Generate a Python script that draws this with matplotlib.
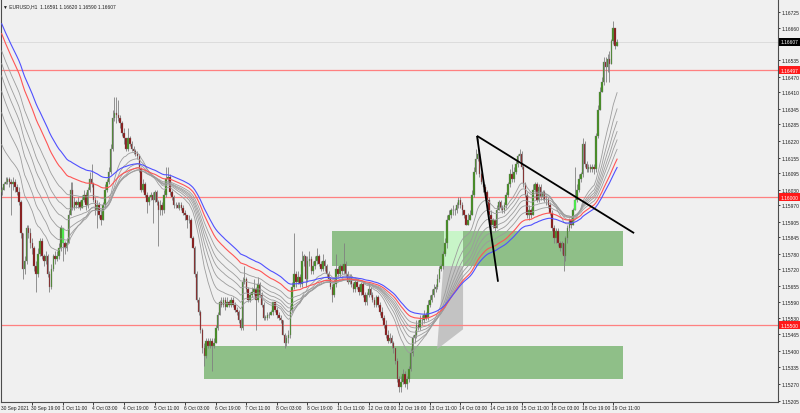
import numpy as np
import pandas as pd
import matplotlib
matplotlib.use("Agg")
import matplotlib.pyplot as plt
from matplotlib.patches import Rectangle, Polygon

# -----------------------------
# Data (EURUSD H1)
# -----------------------------
first_open = 1.1602

closes = [
    1.1603, 1.1605, 1.1606, 1.1607, 1.1606, 1.1605, 1.1606, 1.1604, 1.1602, 1.1598,
    1.1586, 1.1572, 1.1575, 1.1588, 1.1586, 1.1582, 1.1580, 1.1573, 1.1570, 1.1578,
    1.1583, 1.1577, 1.1575, 1.1577, 1.1570, 1.1565, 1.1572, 1.1577, 1.1576, 1.1577,
    1.1580, 1.1588, 1.1582, 1.1580, 1.1582, 1.1593, 1.1603, 1.1596, 1.1598, 1.1597,
    1.1598, 1.1596, 1.1599, 1.1601, 1.1597, 1.1603, 1.1607, 1.1605, 1.1599, 1.1595,
    1.1597, 1.1593, 1.1591, 1.1597, 1.1603, 1.1606, 1.1610, 1.1619, 1.1631, 1.1633,
    1.1632, 1.1631, 1.1629, 1.1625, 1.1623, 1.1619, 1.1623, 1.1621, 1.1619, 1.1618,
    1.1617, 1.1616, 1.1611, 1.1603, 1.1605, 1.1601, 1.1598, 1.1600, 1.1601, 1.1599,
    1.1602, 1.1598, 1.1595, 1.1597, 1.1595, 1.1601, 1.1607, 1.1608, 1.1602, 1.1600,
    1.1597, 1.1597, 1.1596, 1.1597, 1.1596, 1.1594, 1.1593, 1.1591, 1.1591, 1.1584,
    1.1580, 1.1570, 1.1560, 1.1555, 1.1548, 1.1541, 1.1538, 1.1544, 1.1542, 1.1544,
    1.1542, 1.1543, 1.1549, 1.1554, 1.1559, 1.1558, 1.1560, 1.1557, 1.1559, 1.1558,
    1.1560, 1.1558, 1.1556, 1.1555, 1.1552, 1.1549, 1.1567, 1.1568, 1.1564, 1.1560,
    1.1562, 1.1563, 1.1564, 1.1560, 1.1566, 1.1562, 1.1558, 1.1553, 1.1553, 1.1554,
    1.1554, 1.1555, 1.1559, 1.1556, 1.1554, 1.1553, 1.1552, 1.1546, 1.1543, 1.1545,
    1.1546, 1.1556, 1.1565, 1.1570, 1.1567, 1.1569, 1.1566, 1.1575, 1.1577, 1.1568,
    1.1575, 1.1576, 1.1571, 1.1573, 1.1575, 1.1577, 1.1574, 1.1572, 1.1575, 1.1573,
    1.1570, 1.1568, 1.1565, 1.1562, 1.1566, 1.1572, 1.1570, 1.1573, 1.1571, 1.1574,
    1.1570, 1.1567, 1.1569, 1.1566, 1.1564, 1.1567, 1.1565, 1.1563, 1.1566, 1.1562,
    1.1559, 1.1562, 1.1564, 1.1562, 1.1560, 1.1558, 1.1561, 1.1558, 1.1555, 1.1553,
    1.1550, 1.1546, 1.1544, 1.1545, 1.1543, 1.1541, 1.1536, 1.1529, 1.1526, 1.1528,
    1.1531, 1.1527, 1.1529, 1.1533, 1.1539, 1.1545, 1.1546, 1.1550, 1.1549, 1.1552,
    1.1552, 1.1554, 1.1553, 1.1558, 1.1560, 1.1562, 1.1564, 1.1565, 1.1568, 1.1572,
    1.1573, 1.1578, 1.1582, 1.1591, 1.1593, 1.1595, 1.1595, 1.1595, 1.1597, 1.1599,
    1.1597, 1.1595, 1.1593, 1.1589, 1.1591, 1.1593, 1.1601, 1.1610, 1.1615, 1.1617,
    1.1609, 1.1606, 1.1604, 1.1602, 1.1599, 1.1593, 1.1589, 1.1591, 1.1588, 1.1595,
    1.1598, 1.1596, 1.1595, 1.1597, 1.1601, 1.1605, 1.1609, 1.1607, 1.1610, 1.1613,
    1.1616, 1.1617, 1.1612, 1.1605, 1.1601, 1.1593, 1.1595, 1.1593, 1.1603, 1.1605,
    1.1599, 1.1604, 1.1600, 1.1602, 1.1599, 1.1599, 1.1597, 1.1594, 1.1588, 1.1584,
    1.1587, 1.1582, 1.1580, 1.1582, 1.1577, 1.1584, 1.1588, 1.1591, 1.1589, 1.1595,
    1.1599, 1.1603, 1.1607, 1.1609, 1.1621, 1.1613, 1.1611, 1.1612, 1.1611, 1.1612,
    1.1611, 1.1624, 1.1634, 1.1641, 1.1645, 1.1653, 1.1651, 1.1654, 1.1652, 1.1661,
    1.1666, 1.16591, 1.16607,
]

highs = [
    1.1604, 1.1606, 1.1608, 1.1608, 1.1608, 1.1607, 1.1608, 1.1607, 1.1605, 1.1604,
    1.1599, 1.1586, 1.1577, 1.1589, 1.1589, 1.1588, 1.1584, 1.1581, 1.1575, 1.1580,
    1.1584, 1.1584, 1.1578, 1.1579, 1.1578, 1.1571, 1.1574, 1.1578, 1.1579, 1.1579,
    1.1582, 1.1589, 1.1588, 1.1583, 1.1584, 1.1595, 1.1606, 1.1606, 1.1600, 1.1599,
    1.1600, 1.1599, 1.1601, 1.1603, 1.1602, 1.1604, 1.1610, 1.1613, 1.1606, 1.1600,
    1.1599, 1.1598, 1.1595, 1.1598, 1.1605, 1.1607, 1.1612, 1.1621, 1.1634, 1.1639,
    1.1639, 1.1638, 1.1632, 1.1630, 1.1627, 1.1623, 1.1627, 1.1624, 1.1622, 1.1620,
    1.1619, 1.1618, 1.1617, 1.1612, 1.1607, 1.1606, 1.1602, 1.1601, 1.1602, 1.1602,
    1.1603, 1.1603, 1.1599, 1.1599, 1.1598, 1.1603, 1.1612, 1.1612, 1.1609, 1.1603,
    1.1601, 1.1598, 1.1598, 1.1598, 1.1598, 1.1597, 1.1595, 1.1593, 1.1593, 1.1592,
    1.1585, 1.1581, 1.1571, 1.1561, 1.1556, 1.1549, 1.1543, 1.1545, 1.1545, 1.1545,
    1.1545, 1.1545, 1.1550, 1.1555, 1.1560, 1.1561, 1.1561, 1.1561, 1.1561, 1.1560,
    1.1561, 1.1561, 1.1559, 1.1557, 1.1556, 1.1553, 1.1569, 1.1573, 1.1569, 1.1565,
    1.1563, 1.1565, 1.1568, 1.1565, 1.1569, 1.1567, 1.1563, 1.1559, 1.1554, 1.1555,
    1.1555, 1.1556, 1.1559, 1.1559, 1.1557, 1.1555, 1.1554, 1.1552, 1.1547, 1.1546,
    1.1548, 1.1558, 1.1567, 1.1586, 1.1571, 1.1571, 1.1570, 1.1579, 1.1578, 1.1577,
    1.1577, 1.1579, 1.1577, 1.1575, 1.1577, 1.1580, 1.1578, 1.1575, 1.1578, 1.1576,
    1.1574, 1.1571, 1.1569, 1.1566, 1.1568, 1.1578, 1.1573, 1.1574, 1.1574, 1.1582,
    1.1575, 1.1571, 1.1570, 1.1570, 1.1567, 1.1568, 1.1568, 1.1566, 1.1567, 1.1567,
    1.1563, 1.1563, 1.1566, 1.1565, 1.1563, 1.1561, 1.1562, 1.1562, 1.1559, 1.1557,
    1.1554, 1.1552, 1.1548, 1.1547, 1.1546, 1.1544, 1.1541, 1.1537, 1.1530, 1.1530,
    1.1533, 1.1532, 1.1530, 1.1534, 1.1541, 1.1546, 1.1548, 1.1552, 1.1552, 1.1554,
    1.1554, 1.1556, 1.1555, 1.1560, 1.1562, 1.1564, 1.1566, 1.1566, 1.1570, 1.1573,
    1.1574, 1.1579, 1.1584, 1.1593, 1.1595, 1.1596, 1.1597, 1.1596, 1.1598, 1.1600,
    1.1600, 1.1598, 1.1595, 1.1593, 1.1594, 1.1595, 1.1603, 1.1612, 1.1619, 1.1623,
    1.1618, 1.1610, 1.1607, 1.1605, 1.1603, 1.1600, 1.1595, 1.1592, 1.1591, 1.1597,
    1.1599, 1.1599, 1.1597, 1.1598, 1.1602, 1.1606, 1.1611, 1.1613, 1.1612, 1.1614,
    1.1617, 1.1619, 1.1618, 1.1613, 1.1606, 1.1602, 1.1597, 1.1596, 1.1605, 1.1606,
    1.1606, 1.1605, 1.1605, 1.1603, 1.1603, 1.1601, 1.1600, 1.1598, 1.1595, 1.1589,
    1.1588, 1.1588, 1.1583, 1.1583, 1.1582, 1.1585, 1.1589, 1.1592, 1.1592, 1.1596,
    1.1612, 1.1605, 1.1609, 1.1610, 1.1623, 1.1622, 1.1614, 1.1613, 1.1613, 1.1613,
    1.1613, 1.1625, 1.1636, 1.1643, 1.1647, 1.1655, 1.1655, 1.1656, 1.1657, 1.1662,
    1.1669, 1.1666, 1.16620,
]

lows = [
    1.1601, 1.1603, 1.1605, 1.1605, 1.1604, 1.1593, 1.1603, 1.1602, 1.1601, 1.1597,
    1.1584, 1.1568, 1.1570, 1.1574, 1.1584, 1.1580, 1.1578, 1.1571, 1.1563, 1.1569,
    1.1577, 1.1576, 1.1573, 1.1574, 1.1569, 1.1563, 1.1564, 1.1571, 1.1574, 1.1575,
    1.1576, 1.1579, 1.1575, 1.1578, 1.1579, 1.1582, 1.1593, 1.1595, 1.1595, 1.1596,
    1.1596, 1.1595, 1.1596, 1.1598, 1.1595, 1.1596, 1.1602, 1.1604, 1.1598, 1.1593,
    1.1588, 1.1592, 1.1589, 1.1591, 1.1596, 1.1602, 1.1605, 1.1609, 1.1618, 1.1630,
    1.1629, 1.1630, 1.1627, 1.1624, 1.1621, 1.1618, 1.1618, 1.1620, 1.1618, 1.1617,
    1.1616, 1.1615, 1.1610, 1.1602, 1.1602, 1.1600, 1.1594, 1.1597, 1.1599, 1.1590,
    1.1598, 1.1597, 1.1581, 1.1593, 1.1593, 1.1594, 1.1600, 1.1606, 1.1601, 1.1599,
    1.1596, 1.1596, 1.1596, 1.1595, 1.1595, 1.1593, 1.1591, 1.1588, 1.1590, 1.1584,
    1.1580, 1.1569, 1.1559, 1.1554, 1.1547, 1.1539, 1.1534, 1.1537, 1.1541, 1.1541,
    1.1532, 1.1541, 1.1543, 1.1548, 1.1554, 1.1557, 1.1557, 1.1556, 1.1557, 1.1557,
    1.1557, 1.1557, 1.1555, 1.1554, 1.1551, 1.1548, 1.1548, 1.1566, 1.1563, 1.1559,
    1.1559, 1.1561, 1.1562, 1.1548, 1.1559, 1.1561, 1.1557, 1.1552, 1.1552, 1.1552,
    1.1553, 1.1554, 1.1554, 1.1555, 1.1553, 1.1552, 1.1551, 1.1546, 1.1541, 1.1542,
    1.1543, 1.1545, 1.1555, 1.1564, 1.1565, 1.1566, 1.1565, 1.1565, 1.1573, 1.1565,
    1.1567, 1.1573, 1.1570, 1.1570, 1.1572, 1.1574, 1.1573, 1.1571, 1.1571, 1.1571,
    1.1569, 1.1567, 1.1564, 1.1559, 1.1561, 1.1565, 1.1569, 1.1569, 1.1570, 1.1570,
    1.1569, 1.1566, 1.1566, 1.1565, 1.1563, 1.1563, 1.1564, 1.1562, 1.1562, 1.1561,
    1.1558, 1.1558, 1.1561, 1.1561, 1.1559, 1.1557, 1.1557, 1.1557, 1.1554, 1.1552,
    1.1549, 1.1545, 1.1543, 1.1543, 1.1541, 1.1539, 1.1535, 1.1528, 1.1524, 1.1524,
    1.1527, 1.1526, 1.1525, 1.1528, 1.1532, 1.1538, 1.1543, 1.1545, 1.1548, 1.1548,
    1.1550, 1.1551, 1.1552, 1.1552, 1.1557, 1.1559, 1.1561, 1.1563, 1.1564, 1.1567,
    1.1571, 1.1572, 1.1577, 1.1580, 1.1591, 1.1592, 1.1593, 1.1593, 1.1594, 1.1596,
    1.1596, 1.1593, 1.1592, 1.1589, 1.1589, 1.1591, 1.1593, 1.1600, 1.1609, 1.1614,
    1.1608, 1.1605, 1.1602, 1.1601, 1.1598, 1.1592, 1.1584, 1.1588, 1.1587, 1.1588,
    1.1595, 1.1595, 1.1594, 1.1594, 1.1596, 1.1600, 1.1604, 1.1606, 1.1606, 1.1609,
    1.1612, 1.1614, 1.1611, 1.1604, 1.1600, 1.1592, 1.1591, 1.1592, 1.1593, 1.1602,
    1.1598, 1.1598, 1.1599, 1.1599, 1.1598, 1.1597, 1.1596, 1.1593, 1.1587, 1.1582,
    1.1582, 1.1581, 1.1579, 1.1578, 1.1571, 1.1575, 1.1582, 1.1587, 1.1588, 1.1589,
    1.1595, 1.1598, 1.1602, 1.1606, 1.1608, 1.1612, 1.1610, 1.1610, 1.1610, 1.1610,
    1.1609, 1.1610, 1.1623, 1.1634, 1.1641, 1.1644, 1.1645, 1.1649, 1.1645, 1.1652,
    1.1660, 1.1658, 1.16590,
]

lime_bars = [32, 300]

# moving averages: periods and their value at the left edge
gray_periods = [18, 24, 30, 36, 42, 50]
gray_start = [1.16227, 1.16357, 1.16441, 1.16500, 1.16547, 1.16594]
red_period, red_start = 60, 1.16660
blue_period, blue_start = 70, 1.16697

levels = [1.16497, 1.16000, 1.15500]
bid = 1.16607

# supply/demand boxes (bar index range, price range)
zone_left = [172.8, 105.7]
zone_right = [325.3, 325.3]
zone_low = [1.15732, 1.15290]
zone_high = [1.15868, 1.15419]

# shaded triangle near the 13 Oct rally
shade_bars = [227.8, 232.5, 241.4, 241.4]
shade_prices = [1.15406, 1.15868, 1.15868, 1.15484]

# trend lines from the 14 Oct high
apex = (248.7, 1.16240)
line_ends = [(330.9, 1.15860), (259.7, 1.15670)]

y_ticks = [1.16725, 1.16660, 1.16535, 1.16470, 1.16410, 1.16345, 1.16285, 1.16220,
           1.16155, 1.16095, 1.16030, 1.15970, 1.15905, 1.15845, 1.15780, 1.15720,
           1.15655, 1.15590, 1.15530, 1.15465, 1.15400, 1.15335, 1.15270, 1.15205]

x_labels = ["30 Sep 2021", "30 Sep 19:00", "1 Oct 11:00", "4 Oct 03:00", "4 Oct 19:00",
            "5 Oct 11:00", "6 Oct 03:00", "6 Oct 19:00", "7 Oct 11:00", "8 Oct 03:00",
            "8 Oct 19:00", "11 Oct 11:00", "12 Oct 03:00", "12 Oct 19:00", "13 Oct 11:00",
            "14 Oct 03:00", "14 Oct 19:00", "15 Oct 11:00", "18 Oct 03:00", "18 Oct 19:00",
            "19 Oct 11:00"]
x_label_bars = [16 * k for k in range(len(x_labels))]

# -----------------------------
# Prep
# -----------------------------
closes = np.array(closes)
highs = np.array(highs)
lows = np.array(lows)
opens = np.r_[first_open, closes[:-1]]
highs = np.maximum(highs, np.maximum(opens, closes))
lows = np.minimum(lows, np.minimum(opens, closes))
n = len(closes)
x = np.arange(n)


def ema(start, period):
    s = pd.Series(np.r_[start, closes])
    return s.ewm(span=period, adjust=False).mean().values[1:]


plt.rcParams["font.family"] = ["Liberation Sans", "DejaVu Sans"]
FS = 3.5
TXT = "#1e1e1e"
BG = "#f0f0f0"

fig = plt.figure(figsize=(8, 4.14), dpi=100, facecolor=BG)
ax = fig.add_axes([1 / 800, 11 / 414, 777 / 800, 402 / 414])
ax.set_facecolor(BG)
ax.set_xlim(-0.37, 406.2)
ax.set_ylim(1.15200, 1.16771)

# boxes (background)
for l, r, lo, hi in zip(zone_left, zone_right, zone_low, zone_high):
    ax.add_patch(Rectangle((l, lo), r - l, hi - lo, facecolor="#8fbf88",
                           edgecolor="none", zorder=1))
ax.add_patch(Polygon(list(zip(shade_bars, shade_prices)), closed=True,
                     facecolor="#b4b4b4", edgecolor="none", alpha=0.75, zorder=1.2))
# part of the triangle inside the upper box shows up light green
ax.add_patch(Rectangle((231.6, zone_low[0]), 241.4 - 231.6, zone_high[0] - zone_low[0],
                       facecolor="#c8f5c8", edgecolor="none", zorder=1.3))

# level lines
for lv in levels:
    ax.axhline(lv, color="#ff8080", lw=0.9, zorder=1.5)
ax.axhline(bid, color="#d9d9d9", lw=0.6, zorder=1.5)

# candles
up = closes >= opens
ax.vlines(x, lows, highs, color="#808080", lw=0.6, zorder=3)
body_lo = np.minimum(opens, closes)
body_h = np.maximum(np.abs(closes - opens), 0.000012)
colors = np.where(up, "#3f8f1a", "#8b1010").astype(object)
for b in lime_bars:
    colors[b] = "#44ff44"
ax.bar(x, body_h, bottom=body_lo, width=0.8, color=list(colors),
       edgecolor="#7a7a7a", linewidth=0.25, zorder=4)

# moving averages
for p, s0 in zip(gray_periods, gray_start):
    ax.plot(x, ema(s0, p), color="#9c9c9c", lw=0.6, zorder=5)
ax.plot(x, ema(red_start, red_period), color="#ff5555", lw=0.8, zorder=5)
ax.plot(x, ema(blue_start, blue_period), color="#5050ff", lw=0.8, zorder=5)

# trend lines
for ex, ey in line_ends:
    ax.plot([apex[0], ex], [apex[1], ey], color="black", lw=1.3, zorder=6,
            solid_capstyle="butt")

# axes styling
ax.spines["top"].set_visible(False)
for side in ["left", "bottom", "right"]:
    ax.spines[side].set_color("#4d4d4d")
    ax.spines[side].set_linewidth(0.8)

ax.yaxis.tick_right()
ax.set_yticks(y_ticks)
ax.set_yticklabels([f"{v:.5f}" for v in y_ticks])
ax.tick_params(axis="y", direction="out", length=1.5, width=0.6, pad=0.8,
               labelsize=FS, colors=TXT)

ax.set_xticks(x_label_bars[1:])
ax.set_xticklabels([])
ax.tick_params(axis="x", direction="out", length=2.2, width=0.6, colors=TXT)
xt = ax.get_xaxis_transform()
for b, lab in zip(x_label_bars, x_labels):
    ax.text(b - 0.5, -0.007, lab, transform=xt, ha="left", va="top",
            fontsize=FS, color=TXT, clip_on=False)

# price boxes on the right axis
yt = ax.get_yaxis_transform()
for lv, fc in zip(levels + [bid], ["#ff1a1a"] * len(levels) + ["black"]):
    ax.text(1.0035, lv, f"{lv:.5f}", transform=yt, ha="left", va="center",
            fontsize=FS, color="white", clip_on=False, zorder=10,
            bbox=dict(boxstyle="square,pad=0.35", facecolor=fc, edgecolor="none"))

# header
ax.text(0.003, 0.993, "\u25bc EURUSD,H1  1.16591 1.16620 1.16590 1.16607",
        transform=ax.transAxes, ha="left", va="top", fontsize=FS, color=TXT)

fig.savefig("out.png", dpi=100, facecolor=BG)
